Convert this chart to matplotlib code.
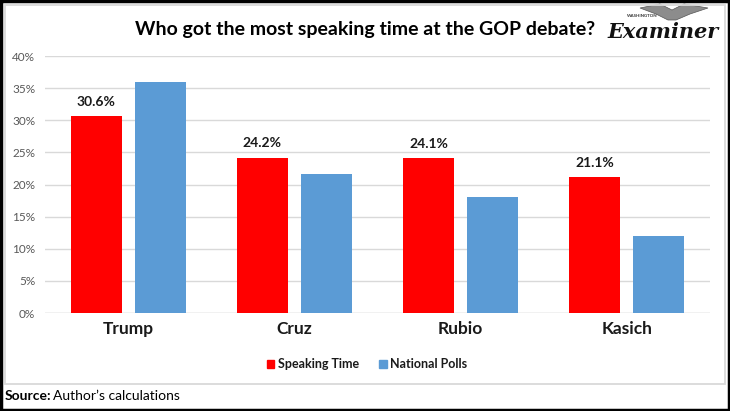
import matplotlib
matplotlib.use("Agg")
import matplotlib.pyplot as plt
import numpy as np
from matplotlib.patches import Rectangle, Patch, Polygon

categories = ["Trump", "Cruz", "Rubio", "Kasich"]
speaking_time = [30.6, 24.2, 24.1, 21.1]
national_polls = [36.0, 21.7, 18.0, 12.0]
yticks = [0, 5, 10, 15, 20, 25, 30, 35, 40]

plt.rcParams['font.family'] = ['Lato', 'DejaVu Sans']

W, H = 730, 411
fig = plt.figure(figsize=(W/100, H/100), dpi=100)

def fx(px):
    return px / W

def fy(py):
    return 1 - py / H

ax = fig.add_axes([fx(45), fy(313), fx(710) - fx(45), fy(56) - fy(313)])
x = np.arange(len(categories))
bw = 0.307
gap = 0.078
red = "#ff0000"
blue = "#5b9bd5"
ax.bar(x - (bw + gap) / 2, speaking_time, bw, color=red, zorder=3, label="Speaking Time")
ax.bar(x + (bw + gap) / 2, national_polls, bw, color=blue, zorder=3, label="National Polls")
for xi, v in zip(x - (bw + gap) / 2, speaking_time):
    ax.text(xi, v + 1.3, f"{v:.1f}%", ha="center", va="bottom", fontsize=10,
            fontweight="bold", color="#1a1a1a")

ax.set_xlim(-0.5, len(categories) - 0.5)
ax.set_ylim(0, 40)
ax.set_yticks(yticks)
ax.set_yticklabels([f"{t}%" for t in yticks], fontsize=8.5, color="#595959")
ax.set_xticks(x)
ax.set_xticklabels(categories, fontsize=12.5, fontweight="bold", color="#1a1a1a")
ax.tick_params(axis="both", length=0)
ax.tick_params(axis="x", pad=6)
ax.tick_params(axis="y", pad=7)
ax.grid(axis="y", color="#d9d9d9", linewidth=1, zorder=0)
for s in ax.spines.values():
    s.set_visible(False)
ax.axhline(0, color="#d9d9d9", linewidth=1, zorder=2)

leg = fig.legend(handles=[Patch(color=red, label="Speaking Time"),
                          Patch(color=blue, label="National Polls")],
                 loc="center", bbox_to_anchor=(fx(367), fy(364)), ncol=2,
                 frameon=False, fontsize=9, handlelength=0.6, handleheight=0.6,
                 handletextpad=0.3, columnspacing=1.6)
for t in leg.get_texts():
    t.set_fontweight("bold")
    t.set_color("#1a1a1a")

fig.text(fx(365), fy(30), "Who got the most speaking time at the GOP debate?",
         ha="center", va="center", fontsize=14, fontweight="bold", color="#000000")

# logo
fig.text(fx(663), fy(32), "Examiner", ha="center", va="center", fontsize=15,
         family="DejaVu Serif", fontweight="bold", fontstyle="italic", color="#111111")
fig.text(fx(642), fy(16), "WASHINGTON", ha="center", va="center", fontsize=3.2,
         fontweight="bold", color="#333333")
wing = Polygon([(fx(640), fy(8)), (fx(660), fy(4)), (fx(672), fy(10)), (fx(684), fy(4)),
                (fx(708), fy(8)), (fx(690), fy(14)), (fx(676), fy(20)), (fx(668), fy(20)),
                (fx(656), fy(14))], closed=True, transform=fig.transFigure,
               facecolor="#8c8c8c", edgecolor="#555555", linewidth=0.5)
fig.patches.append(wing)

# frames
fig.patches.append(Rectangle((fx(5), fy(384)), fx(725) - fx(5), fy(4.5) - fy(384),
                             transform=fig.transFigure, fill=False,
                             edgecolor="#d9d9d9", linewidth=1.3))
fig.patches.append(Rectangle((0.001, 0.002), 0.997, 0.996, transform=fig.transFigure,
                             fill=False, edgecolor="#000000", linewidth=2.5))

fig.text(fx(5), fy(396), "Source:", ha="left", va="center", fontsize=10,
         fontweight="bold", color="#000000")
fig.text(fx(53), fy(396), "Author’s calculations", ha="left", va="center",
         fontsize=10, color="#000000")

fig.savefig("out.png", dpi=100)
